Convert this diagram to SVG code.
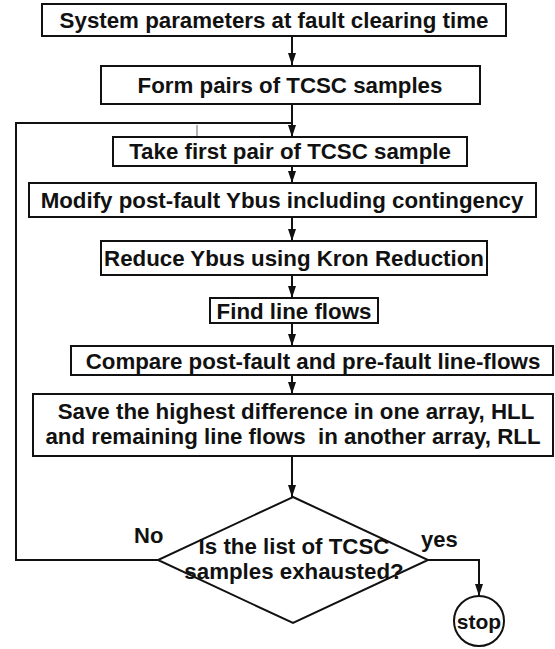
<svg xmlns="http://www.w3.org/2000/svg" width="555" height="649" viewBox="0 0 555 649">
  <style>
    .box { fill: #fff; stroke: #111; stroke-width: 2; }
    .lbl { font-family: "Liberation Sans", Arial, sans-serif; font-weight: bold; font-size: 22.3px; fill: #111; text-anchor: middle; }
    .tag { font-family: "Liberation Sans", Arial, sans-serif; font-weight: bold; font-size: 22px; fill: #111; }
    .flow { fill: none; stroke: #111; stroke-width: 2; }
  </style>
  <defs>
    <marker id="arrow" markerWidth="12" markerHeight="9" refX="12" refY="4.5" orient="auto" markerUnits="userSpaceOnUse">
      <path d="M0,0.5 L12,4.5 L0,8.5 Z" fill="#111"/>
    </marker>
  </defs>

  <rect width="555" height="649" fill="#fff"/>

  <g id="connectors">
    <line class="flow" x1="292" y1="36" x2="292" y2="65" marker-end="url(#arrow)"/>
    <line class="flow" x1="292" y1="104" x2="292" y2="137" marker-end="url(#arrow)"/>
    <polyline class="flow" points="158,560 16,560 16,123 292,123"/>
    <line x1="197" y1="125" x2="197" y2="137" stroke="#444" stroke-width="0.8"/>
    <line class="flow" x1="292" y1="166" x2="292" y2="183" marker-end="url(#arrow)"/>
    <line class="flow" x1="292" y1="217" x2="292" y2="241" marker-end="url(#arrow)"/>
    <line class="flow" x1="292" y1="275" x2="292" y2="298" marker-end="url(#arrow)"/>
    <line class="flow" x1="292" y1="323" x2="292" y2="346" marker-end="url(#arrow)"/>
    <line class="flow" x1="292" y1="375" x2="292" y2="394" marker-end="url(#arrow)"/>
    <line class="flow" x1="292" y1="456" x2="292" y2="497" marker-end="url(#arrow)"/>
    <polyline class="flow" points="428,560 479,560 479,596" marker-end="url(#arrow)"/>
  </g>

  <g id="n-system-params">
    <rect class="box" x="42" y="4" width="464" height="32"/>
    <text class="lbl" x="274" y="27.5">System parameters at fault clearing time</text>
  </g>

  <g id="n-form-pairs">
    <rect class="box" x="101" y="66" width="379" height="38"/>
    <text class="lbl" x="290" y="92.5">Form pairs of TCSC samples</text>
  </g>

  <g id="n-take-first">
    <rect class="box" x="113" y="137" width="354" height="29"/>
    <text class="lbl" x="290" y="159">Take first pair of TCSC sample</text>
  </g>

  <g id="n-modify-ybus">
    <rect class="box" x="29" y="183" width="507" height="34"/>
    <text class="lbl" x="282" y="207.5">Modify post-fault Ybus including contingency</text>
  </g>

  <g id="n-kron">
    <rect class="box" x="101" y="241" width="386" height="34"/>
    <text class="lbl" x="294" y="265.5">Reduce Ybus using Kron Reduction</text>
  </g>

  <g id="n-line-flows">
    <rect class="box" x="210" y="298" width="168" height="25"/>
    <text class="lbl" x="294" y="318.5">Find line flows</text>
  </g>

  <g id="n-compare">
    <rect class="box" x="71" y="346" width="482" height="29"/>
    <text class="lbl" x="313" y="368.5">Compare post-fault and pre-fault line-flows</text>
  </g>

  <g id="n-save">
    <rect class="box" x="33" y="394" width="520" height="62"/>
    <text class="lbl" x="296" y="418.5">Save the highest difference in one array, HLL</text>
    <text class="lbl" x="293" y="444" style="white-space:pre">and remaining line flows  in another array, RLL</text>
  </g>

  <g id="n-decision">
    <polygon class="box" points="293,497 428,560 293,623 158,560"/>
    <text class="lbl" x="294" y="554">Is the list of TCSC</text>
    <text class="lbl" x="294" y="579">samples exhausted?</text>
    <text class="tag" x="134" y="543">No</text>
    <text class="tag" x="421" y="547">yes</text>
  </g>

  <g id="n-stop">
    <circle class="box" cx="479" cy="621" r="25"/>
    <text class="lbl" x="479" y="629" style="font-size:21px">stop</text>
  </g>
</svg>
